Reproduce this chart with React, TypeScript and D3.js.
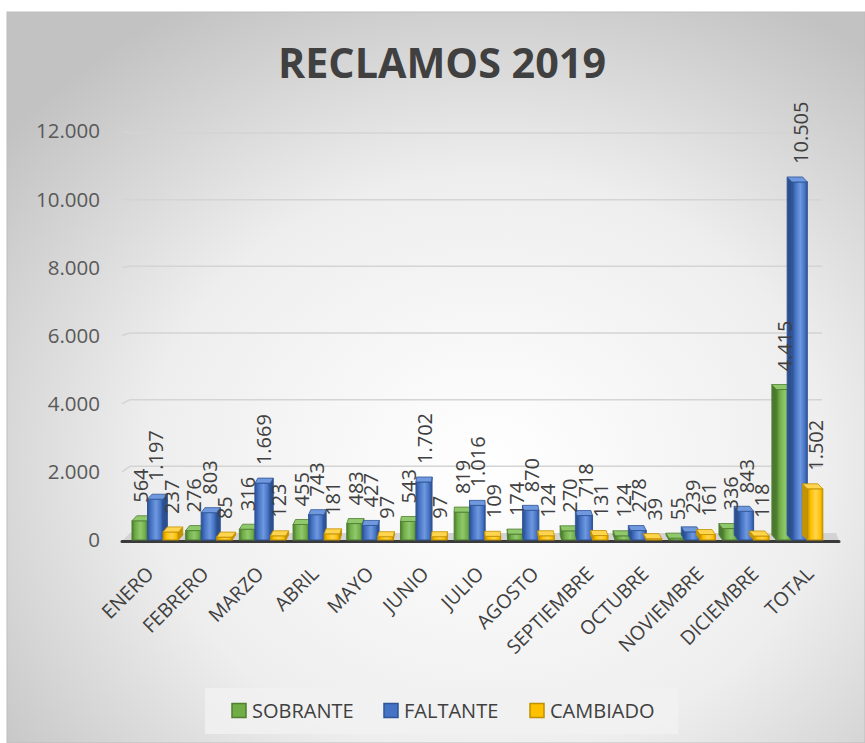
import React from "react";
import * as d3 from "d3";

const categories = ["ENERO", "FEBRERO", "MARZO", "ABRIL", "MAYO", "JUNIO", "JULIO", "AGOSTO", "SEPTIEMBRE", "OCTUBRE", "NOVIEMBRE", "DICIEMBRE", "TOTAL"];
const seriesNames = ["SOBRANTE", "FALTANTE", "CAMBIADO"];
const sobrante = [564, 276, 316, 455, 483, 543, 819, 174, 270, 124, 55, 336, 4415];
const faltante = [1197, 803, 1669, 743, 427, 1702, 1016, 870, 718, 278, 239, 843, 10505];
const cambiado = [237, 85, 123, 181, 97, 97, 109, 124, 131, 39, 161, 118, 1502];
const yTicks = [0, 2000, 4000, 6000, 8000, 10000, 12000];

const seriesValues = [sobrante, faltante, cambiado];
const palette = [
  { face: "#70AD47", light: "#90c96c", dark: "#4b7a2e", border: "#507e32" },
  { face: "#4472C4", light: "#6f98de", dark: "#2c4f8e", border: "#2f5597" },
  { face: "#FFC000", light: "#ffd54f", dark: "#c59400", border: "#c09000" },
];

const locale = d3.formatLocale({ decimal: ",", thousands: ".", grouping: [3], currency: ["", ""] });
const fmt = locale.format(",d");

export default function App() {
  const W = 865, H = 743;
  const x = d3.scaleBand<string>().domain(categories).range([128, 826]);
  const xs = d3.scaleBand<string>().domain(seriesNames).range([4, 50.5]);
  const xLabel = d3.scalePoint<string>().domain(categories).range([155, 815]);
  const y = d3.scaleLinear().domain([0, 12000]).range([540, 131]);
  const yBack = d3.scaleLinear().domain([0, 12000]).range([533, 133]);
  const bw = xs.bandwidth();
  const dy = 5;
  const font = "'Open Sans', 'Noto Sans', sans-serif";

  return (
    <svg width={W} height={H} style={{ position: "absolute", left: 0, top: 0 }} xmlns="http://www.w3.org/2000/svg">
      <defs>
        <radialGradient id="bg" cx="0.56" cy="0.62" r="0.72">
          <stop offset="0" stopColor="#ffffff" />
          <stop offset="0.55" stopColor="#eeeeee" />
          <stop offset="1" stopColor="#c2c2c2" />
        </radialGradient>
        {palette.map((p, i) => (
          <linearGradient key={i} id={`g${i}`} x1="0" x2="1" y1="0" y2="0">
            <stop offset="0" stopColor={p.dark} />
            <stop offset="0.22" stopColor={p.face} />
            <stop offset="0.55" stopColor={p.light} />
            <stop offset="0.85" stopColor={p.face} />
            <stop offset="1" stopColor={p.dark} />
          </linearGradient>
        ))}
      </defs>
      <rect x={0} y={0} width={W} height={H} fill="#ffffff" />
      <rect x={7} y={12} width={W - 7} height={H - 12} fill="url(#bg)" stroke="#bdbdbd" strokeWidth={1} />

      <text x={442} y={78} textAnchor="middle" fontFamily={font} fontWeight={700} fontSize={42} fill="#404040" textLength={328} lengthAdjust="spacingAndGlyphs">RECLAMOS 2019</text>

      {/* gridlines */}
      {yTicks.filter(t => t > 0).map(t => (
        <path key={t} d={`M122,${y(t)} L130,${yBack(t)} L822,${yBack(t)}`} fill="none" stroke="#d4d4d4" strokeWidth={1.5} />
      ))}
      {/* floor */}
      <path d={`M122,${y(0) + 1} L130,${yBack(0)} L836,${yBack(0)} L839,${y(0) + 1} Z`} fill="#d3d3d3" />
      <line x1={122} x2={839} y1={y(0) + 1.5} y2={y(0) + 1.5} stroke="#3a3a3a" strokeWidth={3} strokeLinecap="round" />

      {/* y axis labels */}
      {yTicks.map(t => (
        <text key={t} x={100} y={y(t)} dy="0.36em" textAnchor="end" fontFamily={font} fontSize={20.5} fill="#595959">{fmt(t)}</text>
      ))}

      {/* bars */}
      {categories.map((c, ci) => (
        <g key={c}>
          {seriesNames.map((s, si) => {
            const v = seriesValues[si][ci];
            const x0 = (x(c) as number) + (xs(s) as number);
            const top = y(v);
            const base = y(0);
            const p = palette[si];
            const off = -((x0 + bw / 2) - 470) / 70; // back face shift toward view centre
            const sideX = off > 0 ? x0 + bw : x0;
            return (
              <g key={s}>
                <path d={`M${sideX},${base} L${sideX + off},${base - dy} L${sideX + off},${top - dy} L${sideX},${top} Z`} fill={p.dark} stroke={p.border} strokeWidth={0.8} />
                <rect x={x0} y={top} width={bw} height={base - top} fill={`url(#g${si})`} stroke={p.border} strokeWidth={1} />
                <path d={`M${x0},${top} L${x0 + off},${top - dy} L${x0 + bw + off},${top - dy} L${x0 + bw},${top} Z`} fill={p.light} stroke={p.border} strokeWidth={0.8} />
              </g>
            );
          })}
        </g>
      ))}

      {/* data labels */}
      {categories.map((c, ci) => (
        <g key={c}>
          {seriesNames.map((s, si) => {
            const v = seriesValues[si][ci];
            const cx = (x(c) as number) + (xs(s) as number) + bw / 2 + 1;
            const ty = y(v) - 18;
            return (
              <text key={s} transform={`translate(${cx + 7},${ty}) rotate(-90)`} textAnchor="start" fontFamily={font} fontSize={20} fill="#404040">{fmt(v)}</text>
            );
          })}
        </g>
      ))}

      {/* category labels */}
      {categories.map(c => (
        <text key={c} transform={`translate(${xLabel(c)},575) rotate(-45)`} textAnchor="end" fontFamily={font} fontSize={19.5} fill="#404040">{c}</text>
      ))}

      {/* legend */}
      <rect x={205} y={688} width={473} height={46} fill="#f1f1f1" opacity={0.85} />
      {seriesNames.map((s, si) => {
        const lx = [232, 384, 530][si];
        const p = palette[si];
        return (
          <g key={s}>
            <rect x={lx} y={703.5} width={14} height={14} fill={p.face} stroke={p.border} strokeWidth={1.5} />
            <text x={lx + 20} y={718} fontFamily={font} fontSize={20} fill="#404040">{s}</text>
          </g>
        );
      })}
    </svg>
  );
}
